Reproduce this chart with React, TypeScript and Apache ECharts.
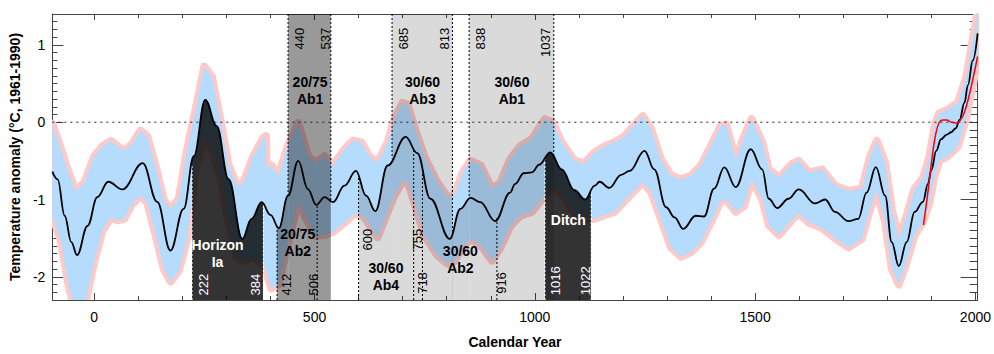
import React, { useEffect, useRef } from 'react';
import * as echarts from 'echarts';

// ---------------- data ----------------
const MEAN_YEARS = [-95, -83, -67, -52, -39, -15, 7, 32, 64, 110, 143, 173, 203, 226, 252, 278, 305, 336, 357, 380, 400, 419, 440, 463, 485, 504, 523, 542, 568, 594, 617, 638, 666, 707, 733, 763, 807, 831, 854, 876, 910, 944, 955, 975, 993, 1010, 1035, 1061, 1090, 1114, 1136, 1147, 1169, 1196, 1215, 1249, 1271, 1298, 1317, 1337, 1365, 1384, 1407, 1430, 1456, 1490, 1516, 1531, 1550, 1576, 1599, 1636, 1659, 1681, 1712, 1734, 1753, 1774, 1795, 1810, 1826, 1844, 1862, 1881, 1892, 1900, 1911, 1922, 1935, 1945, 1955, 1964, 1975, 1983, 1994, 2005];
const MEAN_VALUES = [-0.64, -0.74, -1.21, -1.55, -1.72, -1.34, -0.97, -0.77, -0.87, -0.53, -1.03, -1.66, -1.12, -0.44, 0.29, -0.05, -0.735, -1.51, -1.25, -1.035, -1.2, -1.37, -0.95, -0.5, -0.866, -1.07, -0.97, -1.035, -0.82, -0.63, -0.95, -1.15, -0.56, -0.19, -0.4, -0.99, -1.51, -1.12, -0.98, -1.035, -1.28, -0.91, -0.8, -0.66, -0.65, -0.55, -0.39, -0.61, -0.88, -1.0, -0.82, -0.77, -0.85, -0.68, -0.63, -0.37, -0.61, -1.1, -1.23, -1.38, -1.21, -1.22, -0.86, -0.585, -0.84, -0.35, -0.61, -0.99, -1.11, -0.99, -0.87, -1.05, -1.0, -1.16, -1.28, -1.25, -0.91, -0.58, -0.95, -1.55, -1.86, -1.55, -1.16, -1.03, -0.8, -0.62, -0.37, -0.22, -0.16, -0.13, -0.08, 0.03, 0.25, 0.48, 0.8, 1.15];

const INSTR_YEARS = [1882, 1890, 1896, 1903, 1910, 1918, 1926, 1935, 1945, 1958, 1966, 1975, 1985, 1995, 2005];
const INSTR_VALUES = [-1.33, -1.0, -0.72, -0.4, -0.15, 0.0, 0.03, 0.03, 0.0, -0.01, 0.03, 0.13, 0.33, 0.58, 0.85];

const BAND_YEARS = [-95, -75, -60, -42, -22, 0, 19, 38, 53, 68,
  86, 105, 120, 139, 158, 173, 192, 211, 230, 250,
  267, 286, 305, 324, 339, 361, 384, 390, 391, 402,
  418, 440, 463, 485, 504, 523, 542, 568, 587, 606,
  624, 643, 666, 681, 700, 711, 726, 749, 779, 802,
  817, 836, 854, 877, 903, 922, 944, 967, 993, 1023,
  1040, 1061, 1087, 1110, 1136, 1159, 1181, 1204, 1227, 1245,
  1264, 1286, 1309, 1332, 1355, 1377, 1399, 1422, 1434, 1456,
  1475, 1492, 1516, 1531, 1554, 1584, 1599, 1622, 1652, 1681,
  1712, 1742, 1761, 1776, 1795, 1810, 1826, 1844, 1862, 1881,
  1896, 1907, 1918, 1937, 1960, 1979, 1998, 2005];
const BAND_UPPER = [-0.02, -0.35, -0.62, -0.89, -0.78, -0.44, -0.31, -0.24, -0.31, -0.37,
  -0.28, -0.11, -0.18, -0.56, -1.01, -1.12, -0.99, -0.35, 0.16, 0.72,
  0.59, 0.04, -0.56, -0.82, -0.78, -0.44, -0.2, -0.18, -0.6, -0.56,
  -0.69, -0.3, -0.01, -0.44, -0.52, -0.44, -0.56, -0.35, -0.24, -0.26,
  -0.44, -0.52, -0.26, 0.04, 0.25, 0.23, -0.05, -0.44, -0.78, -0.97,
  -0.95, -0.65, -0.5, -0.56, -0.86, -0.78, -0.48, -0.31, -0.22, 0.04,
  0.0, -0.26, -0.48, -0.54, -0.39, -0.31, -0.26, -0.18, -0.03, 0.08,
  -0.09, -0.48, -0.69, -0.74, -0.69, -0.56, -0.31, -0.05, -0.03, -0.48,
  -0.18, 0.04, -0.26, -0.61, -0.72, -0.54, -0.5, -0.65, -0.61, -0.82,
  -0.89, -0.86, -0.44, -0.24, -0.52, -1.12, -1.51, -1.21, -0.86, -0.72,
  -0.44, -0.05, 0.12, 0.16, 0.25, 0.58, 1.2, 1.45];
const BAND_LOWER = [-1.21, -1.55, -2.06, -2.5, -2.4, -1.8, -1.4, -1.23, -1.27, -1.25,
  -1.06, -0.95, -1.04, -1.45, -1.9, -2.06, -1.92, -1.51, -0.61, -0.2,
  -0.35, -0.7, -1.3, -1.75, -1.8, -1.74, -1.85, -1.9, -1.95, -2.15,
  -2.1, -1.55, -1.03, -1.29, -1.47, -1.46, -1.42, -1.3, -1.2, -1.18,
  -1.32, -1.49, -1.16, -0.95, -0.77, -0.76, -1.03, -1.46, -1.72, -1.83,
  -1.8, -1.62, -1.51, -1.59, -1.79, -1.62, -1.35, -1.21, -1.16, -0.95,
  -0.82, -0.92, -1.15, -1.26, -1.25, -1.2, -1.16, -1.02, -0.88, -0.78,
  -0.9, -1.25, -1.62, -1.74, -1.68, -1.55, -1.3, -1.02, -1.0, -1.16,
  -1.08, -0.74, -0.99, -1.33, -1.46, -1.26, -1.18, -1.3, -1.37, -1.5,
  -1.62, -1.51, -1.12, -0.89, -1.29, -1.89, -2.1, -1.81, -1.46, -1.29,
  -1.03, -0.7, -0.5, -0.44, -0.31, 0.05, 0.6, 0.95];

const X_TICK_LABELS = [0, 500, 1000, 1500, 2000];
const Y_TICK_LABELS = [-2, -1, 0, 1];

// shaded periods (years)
const FULL_SPANS = [[440, 537], [676, 813], [851, 1043]];
const FULL_SHADES = ['mid', 'light', 'light'];
const FLOOR_SPANS = [[222, 384], [415, 440], [600, 676], [813, 851], [1023, 1128]];
const FLOOR_SHADES = ['dark', 'mid', 'light', 'light', 'dark'];
const TOP_LINE_YEARS = [440, 537, 676, 813, 851, 1043];
const BOTTOM_LINE_YEARS = [415, 506, 600, 725, 745, 914];
const WHITE_LINE_YEARS = [222, 384, 1023, 1128];

// ---------------- layout / style ----------------
const X_MIN = -95, X_MAX = 2005, Y_MIN = -2.3, Y_MAX = 1.4;
const FONT = '"Liberation Sans", Arial, sans-serif';
const SHADE: Record<string, string> = {
  dark: 'rgba(0,0,0,0.8)',
  mid: 'rgba(0,0,0,0.4)',
  light: 'rgba(0,0,0,0.145)',
};
const AXIS_COLOR = '#444';

const ANNOTS = [
  { t: 'Horizon\nIa', x: 280, y: -1.695, rot: false, c: '#fff', b: true },
  { t: '222', x: 248, y: -2.1, rot: true, c: '#fff', b: false },
  { t: '384', x: 366, y: -2.1, rot: true, c: '#fff', b: false },
  { t: '20/75\nAb2', x: 462, y: -1.55, rot: false, c: '#000', b: true },
  { t: '412', x: 436, y: -2.1, rot: true, c: '#000', b: false },
  { t: '506', x: 497, y: -2.1, rot: true, c: '#000', b: false },
  { t: '20/75\nAb1', x: 490, y: 0.415, rot: false, c: '#000', b: true },
  { t: '440', x: 465, y: 1.08, rot: true, c: '#000', b: false },
  { t: '537', x: 525, y: 1.08, rot: true, c: '#000', b: false },
  { t: '685', x: 703, y: 1.08, rot: true, c: '#000', b: false },
  { t: '813', x: 794, y: 1.08, rot: true, c: '#000', b: false },
  { t: '30/60\nAb3', x: 745, y: 0.415, rot: false, c: '#000', b: true },
  { t: '838', x: 877, y: 1.08, rot: true, c: '#000', b: false },
  { t: '1037', x: 1025, y: 1.03, rot: true, c: '#000', b: false },
  { t: '30/60\nAb1', x: 948, y: 0.415, rot: false, c: '#000', b: true },
  { t: '600', x: 621, y: -1.52, rot: true, c: '#000', b: false },
  { t: '755', x: 734, y: -1.52, rot: true, c: '#000', b: false },
  { t: '30/60\nAb4', x: 662, y: -2.0, rot: false, c: '#000', b: true },
  { t: '718', x: 746, y: -2.08, rot: true, c: '#000', b: false },
  { t: '30/60\nAb2', x: 831, y: -1.77, rot: false, c: '#000', b: true },
  { t: '916', x: 924, y: -2.08, rot: true, c: '#000', b: false },
  { t: 'Ditch', x: 1076, y: -1.26, rot: false, c: '#fff', b: true },
  { t: '1016', x: 1046, y: -2.05, rot: true, c: '#fff', b: false },
  { t: '1022', x: 1114, y: -2.05, rot: true, c: '#fff', b: false },
];

function meanAt(x: number): number {
  for (let i = 0; i < MEAN_YEARS.length - 1; i++) {
    if (x >= MEAN_YEARS[i] && x <= MEAN_YEARS[i + 1]) {
      const t = (x - MEAN_YEARS[i]) / (MEAN_YEARS[i + 1] - MEAN_YEARS[i]);
      return MEAN_VALUES[i] + t * (MEAN_VALUES[i + 1] - MEAN_VALUES[i]);
    }
  }
  return MEAN_VALUES[MEAN_VALUES.length - 1];
}

function buildOption(): any {
  const meanData = MEAN_YEARS.map((y, i) => [y, MEAN_VALUES[i]]);
  const instrData = INSTR_YEARS.map((y, i) => [y, INSTR_VALUES[i]]);

  const x0 = MEAN_YEARS[0];
  const x1 = MEAN_YEARS[MEAN_YEARS.length - 1];
  const clear = 'rgba(0,0,0,0)';
  const stops: any[] = [{ offset: 0, color: clear }];
  FLOOR_SPANS.forEach((s, i) => {
    const o1 = (s[0] - x0) / (x1 - x0);
    const o2 = (s[1] - x0) / (x1 - x0);
    const col = SHADE[FLOOR_SHADES[i]];
    stops.push({ offset: o1, color: clear }, { offset: o1, color: col }, { offset: o2, color: col }, { offset: o2, color: clear });
  });
  stops.push({ offset: 1, color: clear });
  const floorGradient = new echarts.graphic.LinearGradient(0, 0, 1, 0, stops);

  const xMinor: number[] = [];
  for (let v = 0; v <= 2000; v += 100) xMinor.push(v);
  const yMinor: number[] = [];
  for (let k = -23; k <= 14; k++) yMinor.push(Math.round(k) / 10);

  const xBase = { type: 'value', min: X_MIN, max: X_MAX, splitLine: { show: false } };
  const yBase = { type: 'value', min: Y_MIN, max: Y_MAX, splitLine: { show: false } };
  const tickStyle = { color: AXIS_COLOR, width: 1 };
  const lineStyleAxis = { color: AXIS_COLOR, width: 1 };
  const plain = (v: number) => String(v);

  const lines: any[] = [];
  TOP_LINE_YEARS.forEach((x) => lines.push({ x, from: Y_MAX, color: '#000' }));
  BOTTOM_LINE_YEARS.forEach((x) => lines.push({ x, from: Y_MIN, color: '#000' }));
  WHITE_LINE_YEARS.forEach((x) => lines.push({ x, from: Y_MIN, color: '#fff' }));

  return {
    animation: false,
    backgroundColor: '#fff',
    grid: { left: 49, right: 14, top: 14, bottom: 52, containLabel: false },
    xAxis: [
      {
        ...xBase, position: 'bottom',
        axisLine: { show: true, onZero: false, lineStyle: lineStyleAxis },
        axisTick: { show: true, inside: true, length: 4, customValues: xMinor, lineStyle: tickStyle },
        axisLabel: { show: true, customValues: X_TICK_LABELS, formatter: plain, color: '#000', fontSize: 14, fontFamily: FONT, margin: 10 },
        name: 'Calendar Year', nameLocation: 'middle', nameGap: 35,
        nameTextStyle: { color: '#000', fontSize: 14, fontWeight: 'bold', fontFamily: FONT },
      },
      {
        ...xBase, position: 'bottom',
        axisLine: { show: false, onZero: false },
        axisTick: { show: true, inside: true, length: 7, customValues: X_TICK_LABELS, lineStyle: tickStyle },
        axisLabel: { show: false },
      },
      {
        ...xBase, position: 'top',
        axisLine: { show: true, onZero: false, lineStyle: lineStyleAxis },
        axisTick: { show: true, inside: true, length: 4, customValues: xMinor, lineStyle: tickStyle },
        axisLabel: { show: false },
      },
      {
        ...xBase, position: 'top',
        axisLine: { show: false, onZero: false },
        axisTick: { show: true, inside: true, length: 6, customValues: X_TICK_LABELS, lineStyle: tickStyle },
        axisLabel: { show: false },
      },
    ],
    yAxis: [
      {
        ...yBase, position: 'left',
        axisLine: { show: true, onZero: false, lineStyle: lineStyleAxis },
        axisTick: { show: true, inside: true, length: 5, customValues: yMinor, lineStyle: tickStyle },
        axisLabel: { show: true, customValues: Y_TICK_LABELS, formatter: plain, color: '#000', fontSize: 14, fontFamily: FONT, margin: 7 },
        name: 'Temperature anomaly (°C, 1961-1990)', nameLocation: 'middle', nameGap: 26,
        nameTextStyle: { color: '#000', fontSize: 14, fontWeight: 'bold', fontFamily: FONT },
      },
      {
        ...yBase, position: 'left',
        axisLine: { show: false, onZero: false },
        axisTick: { show: true, inside: true, length: 11, customValues: Y_TICK_LABELS, lineStyle: tickStyle },
        axisLabel: { show: false },
      },
      {
        ...yBase, position: 'right',
        axisLine: { show: true, onZero: false, lineStyle: lineStyleAxis },
        axisTick: { show: true, inside: true, length: 8, customValues: yMinor, lineStyle: tickStyle },
        axisLabel: { show: false },
      },
      {
        ...yBase, position: 'right',
        axisLine: { show: false, onZero: false },
        axisTick: { show: true, inside: true, length: 17, customValues: Y_TICK_LABELS, lineStyle: tickStyle },
        axisLabel: { show: false },
      },
    ],
    series: [
      {
        name: 'uncertainty',
        type: 'custom',
        z: 1,
        clip: true,
        silent: true,
        data: [[X_MIN, 0]],
        renderItem: (params: any, api: any) => {
          const up = BAND_YEARS.map((yr, i) => api.coord([yr, BAND_UPPER[i]]));
          const lo = BAND_YEARS.map((yr, i) => api.coord([yr, BAND_LOWER[i]])).reverse();
          const pts = up.concat(lo);
          return {
            type: 'group',
            children: [
              { type: 'polygon', shape: { points: pts }, style: { fill: '#fdc9c9', stroke: '#fdc9c9', lineWidth: 8, lineJoin: 'round' } },
              { type: 'polygon', shape: { points: pts }, style: { fill: '#b5dbfd' } },
            ],
          };
        },
      },
      {
        name: 'periods',
        type: 'custom',
        z: 2,
        clip: true,
        silent: true,
        data: FULL_SPANS.map((s) => [s[0], s[1]]),
        renderItem: (params: any, api: any) => {
          const a = api.coord([api.value(0), Y_MAX]);
          const b = api.coord([api.value(1), Y_MIN]);
          return {
            type: 'rect',
            shape: { x: a[0], y: a[1], width: b[0] - a[0], height: b[1] - a[1] },
            style: { fill: SHADE[FULL_SHADES[params.dataIndex]] },
          };
        },
      },
      {
        name: 'floor',
        type: 'line',
        z: 2,
        data: meanData,
        smooth: 0.4,
        smoothMonotone: 'x',
        showSymbol: false,
        symbol: 'none',
        silent: true,
        lineStyle: { width: 0, opacity: 0 },
        areaStyle: { origin: 'start', color: floorGradient, opacity: 1 },
      },
      {
        name: 'zero',
        type: 'line',
        z: 3,
        data: [[X_MIN, 0], [X_MAX, 0]],
        symbol: 'none',
        silent: true,
        lineStyle: { color: '#222', width: 1, type: [2, 4] },
      },
      {
        name: 'boundaries',
        type: 'custom',
        z: 3,
        clip: true,
        silent: true,
        data: lines.map((l) => [l.x, l.from]),
        renderItem: (params: any, api: any) => {
          const l = lines[params.dataIndex];
          const p1 = api.coord([l.x, l.from]);
          const p2 = api.coord([l.x, meanAt(l.x)]);
          return {
            type: 'line',
            shape: { x1: p1[0], y1: p1[1], x2: p2[0], y2: p2[1] },
            style: { stroke: l.color, lineWidth: 1, lineDash: [2, 2] },
          };
        },
      },
      {
        name: 'reconstruction',
        type: 'line',
        z: 4,
        data: meanData,
        smooth: 0.4,
        smoothMonotone: 'x',
        symbol: 'none',
        silent: true,
        lineStyle: { color: '#000', width: 1.8 },
      },
      {
        name: 'instrumental',
        type: 'line',
        z: 5,
        data: instrData,
        smooth: 0.4,
        symbol: 'none',
        silent: true,
        lineStyle: { color: '#f00', width: 1.5 },
      },
      {
        name: 'labels',
        type: 'custom',
        z: 6,
        silent: true,
        data: ANNOTS.map((a) => [a.x, a.y]),
        renderItem: (params: any, api: any) => {
          const a = ANNOTS[params.dataIndex];
          const p = api.coord([a.x, a.y]);
          return {
            type: 'text',
            x: p[0],
            y: p[1],
            rotation: a.rot ? Math.PI / 2 : 0,
            style: {
              text: a.t,
              fill: a.c,
              fontFamily: FONT,
              fontSize: a.b ? 14 : 13,
              fontWeight: a.b ? 'bold' : 'normal',
              align: 'center',
              verticalAlign: 'middle',
              lineHeight: 17,
            },
          };
        },
      },
    ],
  };
}

export default function App() {
  const ref = useRef<HTMLDivElement>(null);
  useEffect(() => {
    document.body.style.margin = '0';
    if (!ref.current) return;
    const chart = echarts.init(ref.current, undefined, { renderer: 'svg' });
    chart.setOption(buildOption());
    return () => chart.dispose();
  }, []);
  return <div ref={ref} style={{ width: 994, height: 354 }} />;
}
